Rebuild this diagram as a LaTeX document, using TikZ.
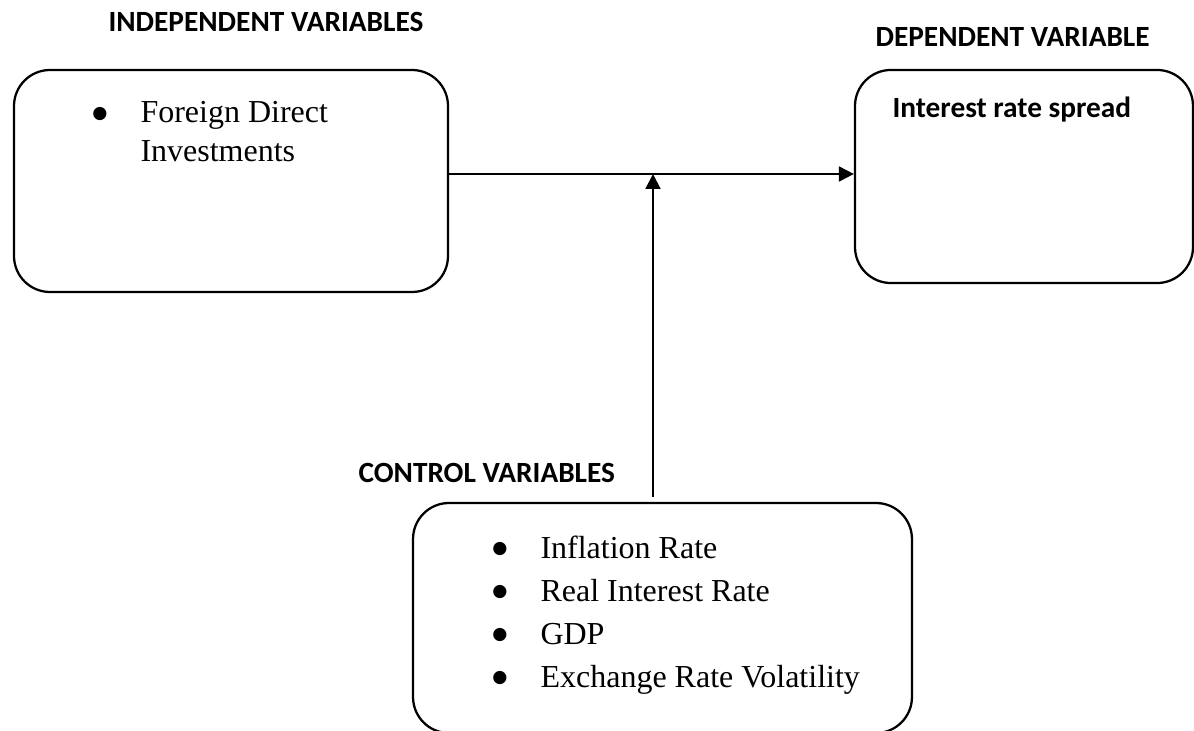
\documentclass[tikz,border=0pt]{standalone}
\usepackage{fontspec}
\setmainfont{Liberation Serif}
\newfontfamily\headfont{Carlito}
\newfontfamily\symfont{DejaVu Sans}
\usetikzlibrary{arrows.meta,calc}
\begin{document}
\begin{tikzpicture}[x=0.375pt,y=-0.375pt,
  varbox/.style={draw, line width=0.85pt, rounded corners=13.5pt, inner sep=0pt},
  heading/.style={font=\headfont\bfseries\fontsize{11}{13}\selectfont, anchor=base west, inner sep=0pt},
  item/.style={font=\fontsize{12}{14}\selectfont, anchor=base west, inner sep=0pt},
  dot/.style={font=\symfont\fontsize{6.5}{7}\selectfont, anchor=center, inner sep=0pt},
  link/.style={line width=0.75pt, -{Triangle[length=5.6pt,width=5.6pt]}}]
  \useasboundingbox (0,0) rectangle (1194,731);
  \clip (0,0) rectangle (1194,731);

  % boxes
  \node[varbox, minimum width=162.75pt, minimum height=83.25pt] (ivbox) at (231,181) {};
  \node[varbox, minimum width=126.75pt, minimum height=79.9pt] (dvbox) at (1024,176.5) {};
  \node[varbox, minimum width=187.1pt, minimum height=86.25pt] (cvbox) at (662.5,618) {};

  % headings
  \node[heading] (ivhead) at (108,32) {INDEPENDENT VARIABLES};
  \node[heading] (dvhead) at (875,47) {DEPENDENT VARIABLE};
  \node[heading] (cvhead) at (358,482) {CONTROL VARIABLES};

  % independent variable
  \node[dot] (ivdot) at (100,114) {●};
  \node[item] (iv1) at (140,123) {Foreign Direct};
  \node[item] (iv2) at (140,162) {Investments};

  % dependent variable
  \node[heading] (dv1) at (892,118) {Interest rate spread};

  % control variables
  \node[dot] (cvdot1) at (500,549) {●};
  \node[item] (cv1) at (540,558) {Inflation Rate};
  \node[dot] (cvdot2) at (500,592) {●};
  \node[item] (cv2) at (540,601) {Real Interest Rate};
  \node[dot] (cvdot3) at (500,635) {●};
  \node[item] (cv3) at (540,644) {GDP};
  \node[dot] (cvdot4) at (500,678) {●};
  \node[item] (cv4) at (540,687) {Exchange Rate Volatility};

  % connectors
  \coordinate (junction) at (653,174);
  \draw[link] (ivbox.east |- junction) -- (dvbox.west |- junction);
  \draw[link] ($(cvbox.north -| junction)+(0,-5)$) -- (junction);
\end{tikzpicture}
\end{document}
